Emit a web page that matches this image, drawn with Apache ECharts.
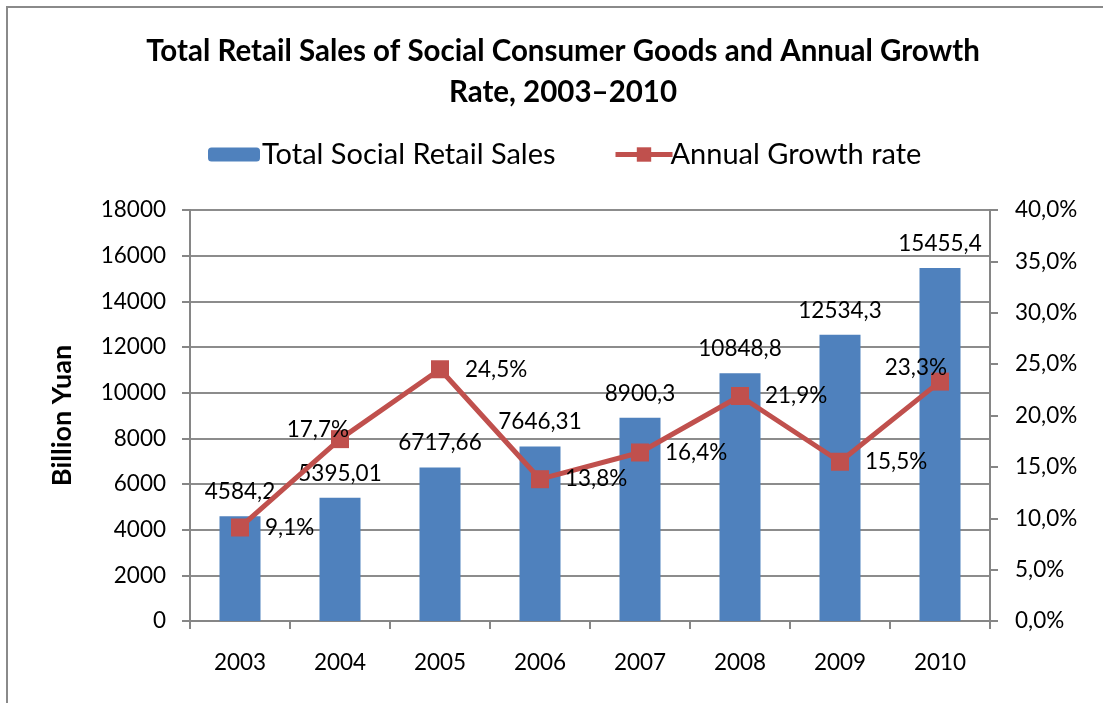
<!DOCTYPE html>
<html>
<head>
<meta charset="utf-8">
<script src="https://cdn.jsdelivr.net/npm/echarts@6/dist/echarts.min.js"></script>
<style>
  html, body { margin: 0; padding: 0; background: #fff; }
  #chart { width: 1103px; height: 703px; }
</style>
</head>
<body>
<div id="chart"></div>
<script>
// Years on the category axis
const years = ['2003', '2004', '2005', '2006', '2007', '2008', '2009', '2010'];
// Total social retail sales, billion yuan
const retailSales = [4584.2, 5395.01, 6717.66, 7646.31, 8900.3, 10848.8, 12534.3, 15455.4];
// Annual growth rate, percent
const growthRate = [9.1, 17.7, 24.5, 13.8, 16.4, 21.9, 15.5, 23.3];

const FONT = 'Lato, "Open Sans", sans-serif';
const comma = s => String(s).replace('.', ',');
const LABEL_SIZE = 22.5;

const chart = echarts.init(document.getElementById('chart'));

// Growth labels sit to the right of the marker, except where they would clash
const growthData = growthRate.map((v, i) => {
  const item = { value: v };
  if (i === 1) item.label = { position: 'left', offset: [34, -9] };
  if (i === 7) item.label = { position: 'left', offset: [32, -14] };
  return item;
});

chart.setOption({
  backgroundColor: '#fff',
  animation: false,
  title: {
    text: 'Total Retail Sales of Social Consumer Goods and Annual Growth\nRate, 2003\u20132010',
    left: 558,
    textAlign: 'center',
    top: 26,
    textStyle: { fontFamily: FONT, fontWeight: 'bold', fontSize: 29.5, lineHeight: 41, color: '#000' }
  },
  legend: [
    {
      data: ['Total Social Retail Sales'],
      left: 203, top: 135,
      itemWidth: 52, itemHeight: 14, itemGap: 4,
      textStyle: { fontFamily: FONT, fontSize: 29, color: '#000', padding: [0, 0, 0, -3] }
    },
    {
      data: ['Annual Growth rate'],
      left: 608, top: 135,
      itemWidth: 57, itemHeight: 18,
      lineStyle: { width: 5, color: '#C0504D' },
      textStyle: { fontFamily: FONT, fontSize: 29, color: '#000', padding: [0, 0, 0, -7] }
    }
  ],
  grid: { left: 190, right: 113, top: 210, bottom: 82, containLabel: false },
  graphic: [{
    type: 'rect',
    shape: { x: 7, y: 7, width: 1300, height: 900 },
    style: { fill: 'none', stroke: '#8a8a8a', lineWidth: 2 },
    silent: true, z: 100
  }],
  xAxis: {
    type: 'category',
    data: years,
    axisLine: { lineStyle: { color: '#868686', width: 2 } },
    axisTick: { show: true, length: 8, lineStyle: { color: '#868686', width: 2 } },
    axisLabel: { fontFamily: FONT, fontSize: LABEL_SIZE, color: '#000', margin: 30 }
  },
  yAxis: [
    {
      type: 'value',
      min: 0, max: 18000, interval: 2000,
      name: 'Billion Yuan',
      nameLocation: 'middle',
      nameGap: 114,
      nameTextStyle: { fontFamily: FONT, fontWeight: 'bold', fontSize: 27, color: '#000' },
      axisLine: { show: true, lineStyle: { color: '#868686', width: 2 } },
      axisTick: { show: true, length: 8, lineStyle: { color: '#868686', width: 2 } },
      axisLabel: { fontFamily: FONT, fontSize: LABEL_SIZE, color: '#000', margin: 24, formatter: v => String(v) },
      splitLine: { lineStyle: { color: '#8c8c8c', width: 2 } }
    },
    {
      type: 'value',
      min: 0, max: 40, interval: 5,
      position: 'right',
      axisLine: { show: true, lineStyle: { color: '#868686', width: 2 } },
      axisTick: { show: true, length: 8, lineStyle: { color: '#868686', width: 2 } },
      axisLabel: {
        fontFamily: FONT, fontSize: LABEL_SIZE, color: '#000', margin: 25,
        formatter: v => comma(v.toFixed(1)) + '%'
      },
      splitLine: { show: false }
    }
  ],
  series: [
    {
      name: 'Total Social Retail Sales',
      type: 'bar',
      data: retailSales,
      barWidth: '41%',
      itemStyle: { color: '#4F81BD' },
      label: {
        show: true, position: 'top', distance: 13,
        fontFamily: FONT, fontSize: LABEL_SIZE, color: '#000',
        formatter: p => comma(p.value)
      },
      z: 2
    },
    {
      name: 'Annual Growth rate',
      type: 'line',
      yAxisIndex: 1,
      data: growthData,
      symbol: 'rect',
      symbolSize: 18,
      lineStyle: { color: '#C0504D', width: 5 },
      itemStyle: { color: '#C0504D' },
      label: {
        show: true, position: 'right', distance: 16,
        fontFamily: FONT, fontSize: LABEL_SIZE, color: '#000',
        formatter: p => comma(p.value.toFixed(1)) + '%'
      },
      z: 3
    }
  ]
});
</script>
</body>
</html>
